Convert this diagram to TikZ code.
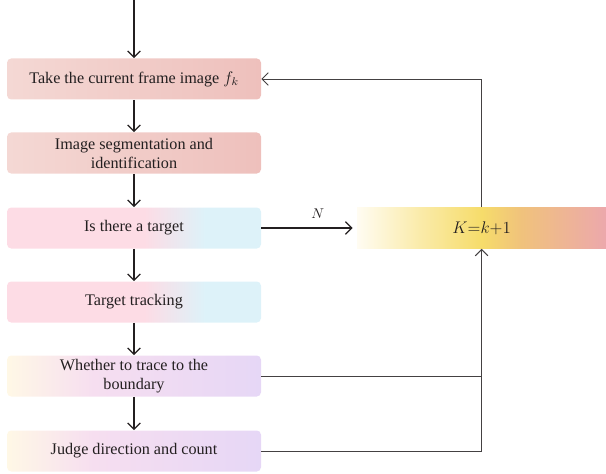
\documentclass[tikz,border=0pt]{standalone}
\usepackage{fontspec}
\setmainfont{Liberation Serif}
\usetikzlibrary{arrows.meta}
\definecolor{inkgray}{HTML}{231F20}
\definecolor{rosL}{HTML}{F4D8D4}
\definecolor{rosR}{HTML}{EEC0BC}
\definecolor{pinkL}{HTML}{FDDCE5}
\definecolor{cyanR}{HTML}{DDF2F9}
\definecolor{creamL}{HTML}{FFF8E6}
\definecolor{lilacM}{HTML}{F6DEF0}
\definecolor{lilacR}{HTML}{E6D7F6}
\definecolor{kwhite}{HTML}{FFFCF2}
\definecolor{kyellow}{HTML}{F6DC6A}
\definecolor{korange}{HTML}{F0C27C}
\definecolor{kpink}{HTML}{ECA8AC}
\pgfdeclarehorizontalshading{rosebar}{100bp}{color(0bp)=(rosL); color(25bp)=(rosL); color(75bp)=(rosR); color(100bp)=(rosR)}
\pgfdeclarehorizontalshading{pinkcyan}{100bp}{color(0bp)=(pinkL); color(25bp)=(pinkL); color(52bp)=(pinkL); color(64bp)=(cyanR); color(100bp)=(cyanR)}
\pgfdeclarehorizontalshading{creamlilac}{100bp}{color(0bp)=(creamL); color(25bp)=(creamL); color(42bp)=(lilacM); color(75bp)=(lilacR); color(100bp)=(lilacR)}
\pgfdeclarehorizontalshading{kbar}{100bp}{color(0bp)=(kwhite); color(25bp)=(kwhite); color(38bp)=(kyellow!55!kwhite); color(50bp)=(kyellow); color(58bp)=(korange); color(75bp)=(kpink); color(100bp)=(kpink)}

\begin{document}
\begin{tikzpicture}[>={Straight Barb[length=4.5pt,width=9pt]},
    box/.style={rectangle, rounded corners=3pt, minimum width=6.35cm, minimum height=1.025cm,
        align=center, font=\fontsize{11.5}{13.5}\selectfont, text=inkgray, inner sep=0pt},
    flow/.style={->, line width=0.9pt, inkgray},
    loop/.style={line width=0.7pt, inkgray!85}]
    \useasboundingbox (0,0) rectangle (15.15,11.825);
    \coordinate (start) at (3.35,11.825);
    \node[box, shading=rosebar] (take) at (3.35,9.85) {Take the current frame image $f_k$};
    \node[box, shading=rosebar] (segment) at (3.35,8.0) {Image segmentation and\\identification};
    \node[box, shading=pinkcyan] (target) at (3.35,6.125) {Is there a target};
    \node[box, shading=pinkcyan] (track) at (3.35,4.275) {Target tracking};
    \node[box, shading=creamlilac] (boundary) at (3.35,2.425) {Whether to trace to the\\boundary};
    \node[box, shading=creamlilac] (judge) at (3.35,0.55) {Judge direction and count};
    \node[box, shading=kbar, minimum width=6.225cm, rounded corners=0pt] (kbox) at (12.04,6.125) {$K{=}k{+}1$};
    \draw[flow] (start) -- (take);
    \draw[flow] (take) -- (segment);
    \draw[flow] (segment) -- (target);
    \draw[flow] (target) -- (track);
    \draw[flow] (track) -- (boundary);
    \draw[flow] (boundary) -- (judge);
    \draw[flow] (target) -- node[above=3pt, pos=0.62] {$N$} ([xshift=-3pt]kbox.west);
    \draw[loop, ->] (kbox.north) |- (take.east);
    \draw[loop, ->] (judge.east) -| (kbox.south);
    \draw[loop] (boundary.east) -- (boundary.east -| kbox.south);
\end{tikzpicture}
\end{document}
